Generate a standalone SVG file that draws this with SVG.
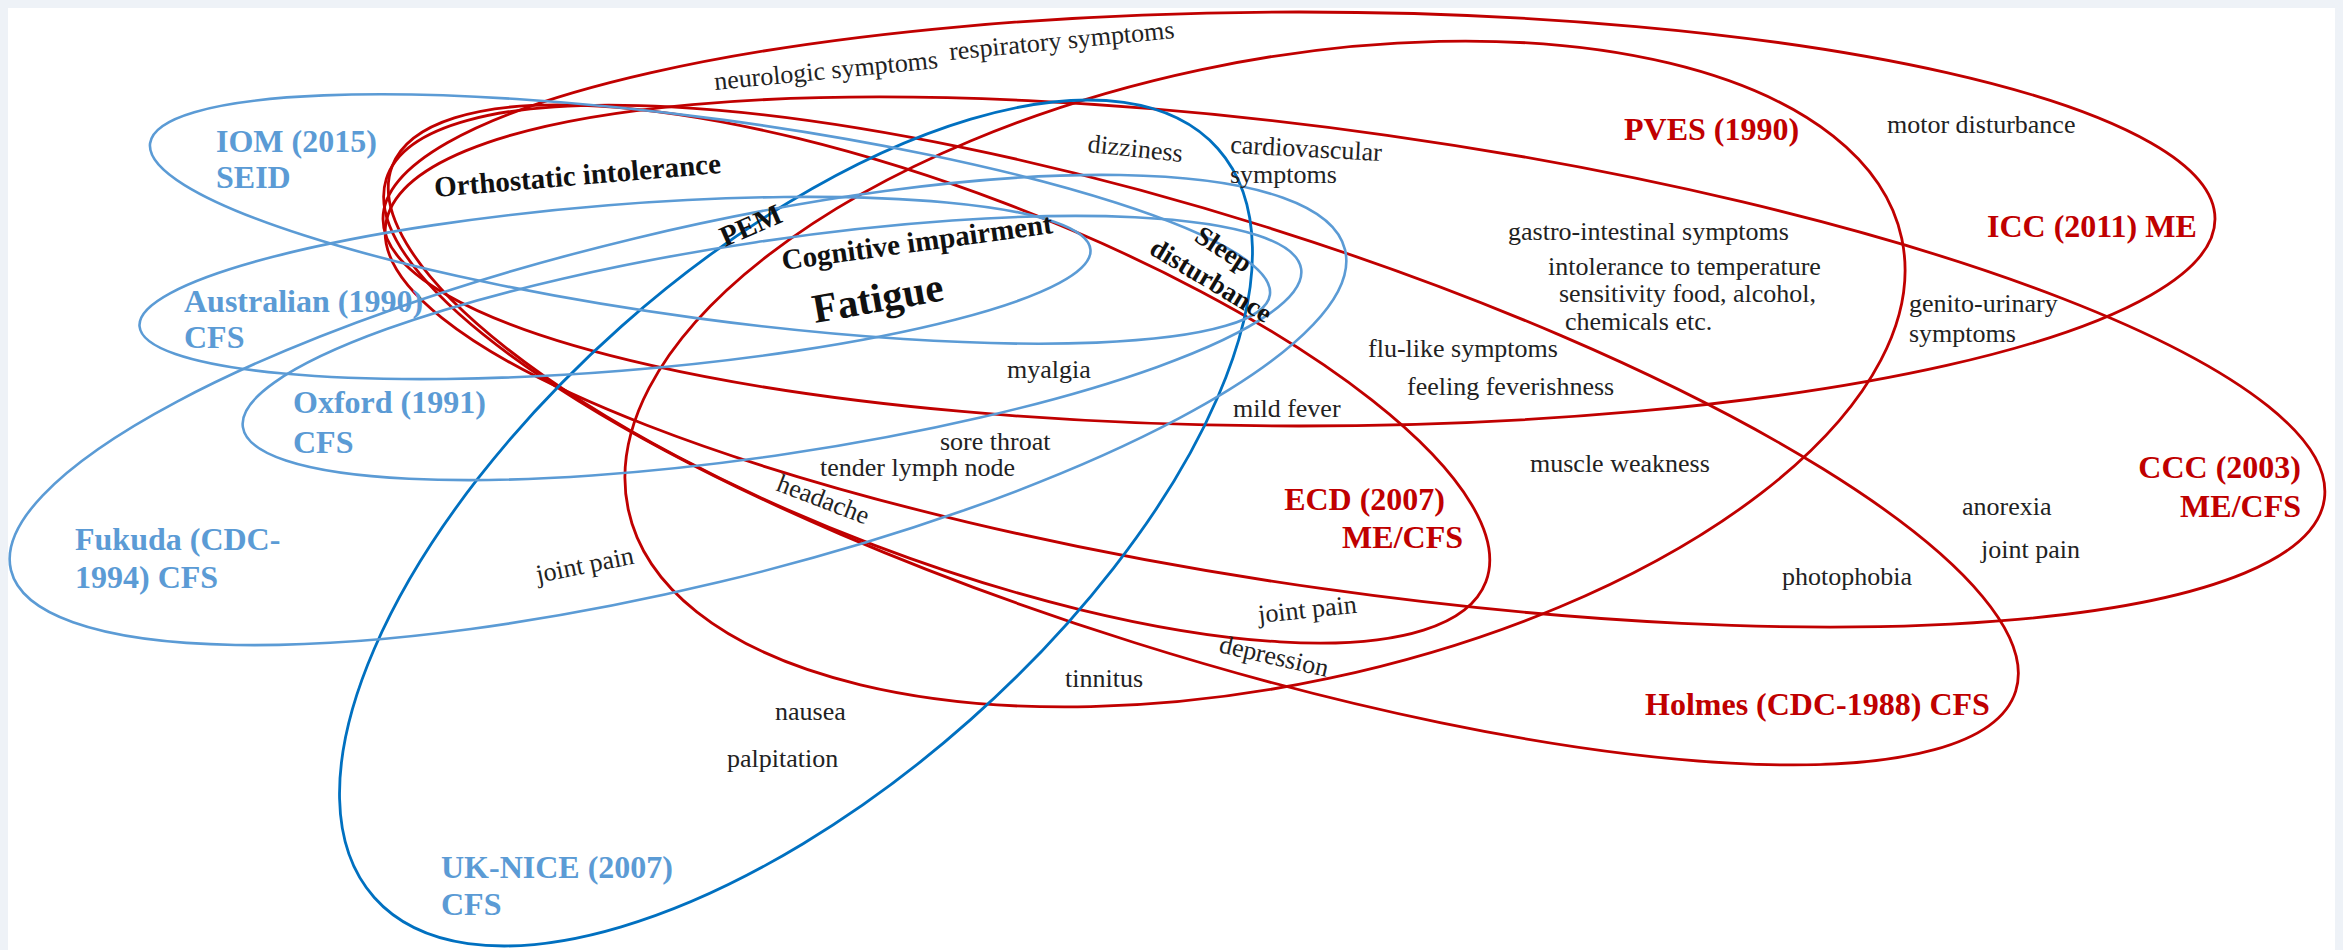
<svg xmlns="http://www.w3.org/2000/svg" width="2343" height="950" viewBox="0 0 2343 950">
  <style>
    .lb { fill: none; stroke: #5b9bd5; stroke-width: 2.6; }
    .db { fill: none; stroke: #0070c0; stroke-width: 2.8; }
    .rd { fill: none; stroke: #c00000; stroke-width: 2.8; }
    .tb { font-family: "Liberation Serif", "Times New Roman", serif; font-weight: bold; font-size: 32px; fill: #5b9bd5; }
    .tr { font-family: "Liberation Serif", "Times New Roman", serif; font-weight: bold; font-size: 32px; fill: #c00000; }
    .tk { font-family: "Liberation Serif", "Times New Roman", serif; font-weight: bold; font-size: 29px; fill: #111; }
    .tk.big { font-size: 41px; }
    .tk.sl { font-size: 27px; }
    .tn { font-family: "Liberation Serif", "Times New Roman", serif; font-size: 26px; fill: #222; }
  </style>
  <rect width="2343" height="950" fill="#eef2f7"/>
  <rect x="8" y="8" width="2327" height="942" fill="#ffffff"/>

  <!-- case-definition outlines -->
  <g id="connectors">
    <ellipse id="icc" class="rd" cx="1299" cy="219" rx="916" ry="207"/>
    <ellipse id="pves" class="rd" cx="1265" cy="374" rx="651" ry="311" transform="rotate(-12 1265 374)"/>
    <ellipse id="ccc" class="rd" cx="1355" cy="362" rx="979" ry="229" transform="rotate(8.06 1355 362)"/>
    <ellipse id="ecd" class="rd" cx="939" cy="374" rx="585" ry="183" transform="rotate(20.8 939 374)"/>
    <ellipse id="holmes" class="rd" cx="1201" cy="435" rx="854" ry="218" transform="rotate(17.45 1201 435)"/>
    <ellipse id="nice" class="db" cx="796" cy="523" rx="564" ry="263" transform="rotate(-41.6 796 523)"/>
    <ellipse id="iom" class="lb" cx="710" cy="219" rx="565" ry="100" transform="rotate(7.7 710 219)"/>
    <ellipse id="fukuda" class="lb" cx="678" cy="410" rx="686" ry="177" transform="rotate(-13.5 678 410)"/>
    <ellipse id="australian" class="lb" cx="615" cy="288" rx="477" ry="83" transform="rotate(-4.6 615 288)"/>
    <ellipse id="oxford" class="lb" cx="772" cy="348" rx="535" ry="107" transform="rotate(-8.5 772 348)"/>
  </g>

  <!-- definition labels -->
  <g id="label-iom"><text class="tb" x="216" y="152">IOM (2015)</text><text class="tb" x="216" y="188">SEID</text></g>
  <g id="label-australian"><text class="tb" x="184" y="312">Australian (1990)</text><text class="tb" x="184" y="348">CFS</text></g>
  <g id="label-oxford"><text class="tb" x="293" y="413">Oxford (1991)</text><text class="tb" x="293" y="453">CFS</text></g>
  <g id="label-fukuda"><text class="tb" x="75" y="550">Fukuda (CDC-</text><text class="tb" x="75" y="588">1994) CFS</text></g>
  <g id="label-nice"><text class="tb" x="441" y="878">UK-NICE (2007)</text><text class="tb" x="441" y="915">CFS</text></g>
  <g id="label-pves"><text class="tr" x="1624" y="140">PVES (1990)</text></g>
  <g id="label-icc"><text class="tr" x="1987" y="237">ICC (2011) ME</text></g>
  <g id="label-ccc"><text class="tr" x="2301" y="478" text-anchor="end">CCC (2003)</text><text class="tr" x="2301" y="517" text-anchor="end">ME/CFS</text></g>
  <g id="label-ecd"><text class="tr" x="1445" y="510" text-anchor="end">ECD (2007)</text><text class="tr" x="1463" y="548" text-anchor="end">ME/CFS</text></g>
  <g id="label-holmes"><text class="tr" x="1645" y="715">Holmes (CDC-1988) CFS</text></g>

  <!-- core symptoms -->
  <g id="core-symptoms">
    <text class="tk" transform="translate(435 197) rotate(-4.8)">Orthostatic intolerance</text>
    <text class="tk" transform="translate(725 247) rotate(-23.5)">PEM</text>
    <text class="tk" transform="translate(783 270) rotate(-7.8)">Cognitive impairment</text>
    <text class="tk big" transform="translate(815 323) rotate(-10)">Fatigue</text>
    <text class="tk sl" transform="translate(1193 240) rotate(33)">Sleep</text>
    <text class="tk sl" transform="translate(1148 253) rotate(31)">disturbance</text>
  </g>

  <!-- other symptoms -->
  <g id="symptoms">
    <text class="tn" transform="translate(715 90) rotate(-5.6)">neurologic symptoms</text>
    <text class="tn" transform="translate(950 60) rotate(-5.6)">respiratory symptoms</text>
    <text class="tn" transform="translate(1087 152) rotate(6)">dizziness</text>
    <text class="tn" transform="translate(1230 153) rotate(3)">cardiovascular</text>
    <text class="tn" x="1230" y="183">symptoms</text>
    <text class="tn" x="1007" y="378">myalgia</text>
    <text class="tn" x="1233" y="417">mild fever</text>
    <text class="tn" x="940" y="450">sore throat</text>
    <text class="tn" x="820" y="476">tender lymph node</text>
    <text class="tn" transform="translate(775 490) rotate(21)">headache</text>
    <text class="tn" transform="translate(538 583) rotate(-11.4)">joint pain</text>
    <text class="tn" transform="translate(1259 623) rotate(-6)">joint pain</text>
    <text class="tn" transform="translate(1218 652) rotate(13)">depression</text>
    <text class="tn" x="1065" y="687">tinnitus</text>
    <text class="tn" x="775" y="720">nausea</text>
    <text class="tn" x="727" y="767">palpitation</text>
    <text class="tn" x="1368" y="357">flu-like symptoms</text>
    <text class="tn" x="1407" y="395">feeling feverishness</text>
    <text class="tn" x="1508" y="240">gastro-intestinal symptoms</text>
    <text class="tn" x="1548" y="275">intolerance to temperature</text>
    <text class="tn" x="1559" y="302">sensitivity food, alcohol,</text>
    <text class="tn" x="1565" y="330">chemicals etc.</text>
    <text class="tn" x="1909" y="312">genito-urinary</text>
    <text class="tn" x="1909" y="342">symptoms</text>
    <text class="tn" x="1887" y="133">motor disturbance</text>
    <text class="tn" x="1530" y="472">muscle weakness</text>
    <text class="tn" x="1962" y="515">anorexia</text>
    <text class="tn" x="1981" y="558">joint pain</text>
    <text class="tn" x="1782" y="585">photophobia</text>
  </g>
</svg>
